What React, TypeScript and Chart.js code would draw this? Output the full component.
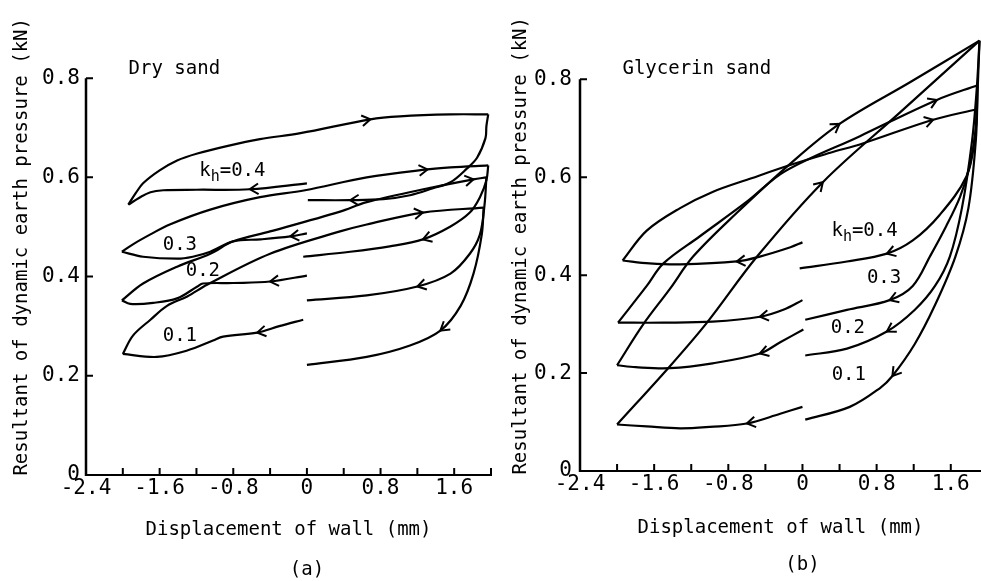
import React, { useEffect, useRef } from "react";
import { Chart, registerables } from "chart.js";
Chart.register(...registerables);

const FONT = '"DejaVu Sans Mono", "Liberation Mono", monospace';

// ---------- axis ticks ----------
const xLabelTicks = [-2.4, -1.6, -0.8, 0, 0.8, 1.6];
const xTickMarks = [-2.0, -1.6, -1.2, -0.8, -0.4, 0, 0.4, 0.8, 1.2, 1.6, 2.0];
const yLabelTicks = [0, 0.2, 0.4, 0.6, 0.8];
const yTickMarks = [0.2, 0.4, 0.6, 0.8];

// ---------- (a) Dry sand ----------
const dryK04Left = [[0.0, 0.588], [-0.62, 0.576], [-1.2, 0.575], [-1.56, 0.574], [-1.7, 0.57], [-1.82, 0.559], [-1.94, 0.545]];
const dryK04Up = [[-1.94, 0.545], [-1.86, 0.568], [-1.78, 0.588], [-1.6, 0.614], [-1.41, 0.634], [-1.19, 0.648], [-0.87, 0.663], [-0.51, 0.677], [-0.07, 0.689], [0.69, 0.717], [1.01, 0.723], [1.56, 0.727], [1.97, 0.727]];
const dryK04Down = [[1.97, 0.727], [1.95, 0.703], [1.94, 0.679], [1.85, 0.64], [1.74, 0.618], [1.56, 0.59], [1.37, 0.578], [1.12, 0.564], [0.83, 0.556], [0.47, 0.554], [0.01, 0.554]];

const dryK03Left = [[0.0, 0.487], [-0.18, 0.481], [-0.5, 0.475], [-0.8, 0.471], [-1.05, 0.45], [-1.24, 0.44], [-1.41, 0.436], [-1.78, 0.44], [-2.01, 0.45]];
const dryK03Up = [[-2.01, 0.45], [-1.89, 0.465], [-1.7, 0.485], [-1.49, 0.505], [-1.05, 0.535], [-0.51, 0.56], [-0.02, 0.574], [0.65, 0.6], [1.31, 0.616], [1.56, 0.62], [1.97, 0.624]];
const dryK03Down = [[1.97, 0.624], [1.95, 0.594], [1.88, 0.56], [1.77, 0.529], [1.56, 0.501], [1.26, 0.475], [0.9, 0.461], [0.47, 0.45], [-0.04, 0.44]];

const dryK02Left = [[0.0, 0.402], [-0.4, 0.39], [-0.8, 0.387], [-1.13, 0.386], [-1.19, 0.38], [-1.41, 0.356], [-1.67, 0.347], [-1.92, 0.345], [-2.01, 0.352]];
const dryK02Up = [[-2.01, 0.352], [-1.78, 0.386], [-1.41, 0.42], [-1.05, 0.446], [-0.8, 0.471], [-0.4, 0.491], [0.36, 0.531], [0.65, 0.55], [1.37, 0.58], [1.81, 0.596], [1.95, 0.6]];
const dryK02Down = [[1.95, 0.6], [1.93, 0.545], [1.88, 0.485], [1.77, 0.446], [1.56, 0.406], [1.2, 0.38], [0.65, 0.362], [0.0, 0.352]];

const dryK01Left = [[-0.04, 0.313], [-0.3, 0.3], [-0.54, 0.287], [-0.91, 0.279], [-1.02, 0.271], [-1.3, 0.251], [-1.63, 0.238], [-2.0, 0.244]];
const dryK01Up = [[-2.0, 0.244], [-1.89, 0.281], [-1.7, 0.313], [-1.52, 0.341], [-1.3, 0.36], [-1.08, 0.384], [-0.4, 0.446], [0.36, 0.491], [0.65, 0.505], [1.26, 0.529], [1.92, 0.539]];
const dryK01Down = [[1.92, 0.539], [1.9, 0.485], [1.81, 0.406], [1.67, 0.341], [1.45, 0.291], [1.12, 0.261], [0.65, 0.238], [0.0, 0.222]];

const drySegments = [dryK04Left, dryK04Up, dryK04Down, dryK03Left, dryK03Up, dryK03Down, dryK02Left, dryK02Up, dryK02Down, dryK01Left, dryK01Up, dryK01Down];
const dryArrows: [number[][], number][] = [
  [dryK04Left, -0.62], [dryK04Up, 0.69], [dryK04Down, 0.47],
  [dryK03Left, -0.18], [dryK03Up, 1.31], [dryK03Down, 1.26],
  [dryK02Left, -0.4], [dryK02Up, 1.81], [dryK02Down, 1.2],
  [dryK01Left, -0.54], [dryK01Up, 1.26], [dryK01Down, 1.45],
];
const dryLabels: [number, number, string][] = [
  [-1.44, 0.818, "Dry sand"],
  [-0.81, 0.612, "k_h=0.4"],
  [-1.38, 0.463, "0.3"],
  [-1.13, 0.412, "0.2"],
  [-1.38, 0.281, "0.1"],
];

// ---------- (b) Glycerin sand ----------
const glyK04Left = [[0.0, 0.467], [-0.13, 0.457], [-0.46, 0.438], [-0.71, 0.428], [-1.32, 0.422], [-1.65, 0.424], [-1.94, 0.43]];
const glyK04Up = [[-1.94, 0.43], [-1.68, 0.491], [-1.32, 0.537], [-0.97, 0.57], [-0.55, 0.598], [-0.1, 0.627], [0.3, 0.65], [0.65, 0.669], [1.4, 0.717], [1.88, 0.739]];
const glyK04Down = [[1.88, 0.739], [1.86, 0.68], [1.77, 0.602], [1.48, 0.523], [1.19, 0.471], [0.91, 0.444], [0.48, 0.428], [-0.03, 0.414]];

const glyK03Left = [[0.0, 0.349], [-0.2, 0.33], [-0.46, 0.315], [-0.97, 0.305], [-1.5, 0.303], [-1.99, 0.303]];
const glyK03Up = [[-1.99, 0.303], [-1.68, 0.378], [-1.5, 0.424], [-1.11, 0.479], [-0.6, 0.55], [-0.19, 0.612], [0.62, 0.684], [1.45, 0.758], [1.89, 0.788]];
const glyK03Down = [[1.89, 0.788], [1.87, 0.7], [1.8, 0.62], [1.7, 0.56], [1.55, 0.5], [1.38, 0.44], [1.19, 0.378], [0.94, 0.349], [0.48, 0.329], [0.03, 0.309]];

const glyK02Left = [[0.01, 0.289], [-0.24, 0.263], [-0.46, 0.24], [-0.97, 0.22], [-1.43, 0.21], [-1.8, 0.212], [-2.0, 0.216]];
const glyK02Up = [[-2.0, 0.216], [-1.72, 0.299], [-1.43, 0.372], [-1.18, 0.438], [-0.71, 0.527], [-0.13, 0.628], [0.4, 0.709], [1.16, 0.794], [1.91, 0.879]];
const glyK02Down = [[1.91, 0.879], [1.88, 0.78], [1.83, 0.675], [1.72, 0.537], [1.59, 0.438], [1.43, 0.378], [1.21, 0.329], [0.91, 0.285], [0.48, 0.25], [0.03, 0.236]];

const glyK01Left = [[0.0, 0.131], [-0.24, 0.117], [-0.6, 0.097], [-1.0, 0.09], [-1.32, 0.087], [-1.68, 0.091], [-2.0, 0.095]];
const glyK01Up = [[-2.0, 0.095], [-1.43, 0.214], [-1.03, 0.303], [-0.49, 0.438], [0.22, 0.59], [1.05, 0.732], [1.91, 0.879]];
const glyK01Down = [[1.91, 0.879], [1.89, 0.78], [1.87, 0.675], [1.79, 0.537], [1.65, 0.438], [1.43, 0.339], [1.21, 0.259], [0.97, 0.194], [0.84, 0.17], [0.51, 0.131], [0.03, 0.105]];

const glySegments = [glyK04Left, glyK04Up, glyK04Down, glyK03Left, glyK03Up, glyK03Down, glyK02Left, glyK02Up, glyK02Down, glyK01Left, glyK01Up, glyK01Down];
const glyArrows: [number[][], number][] = [
  [glyK04Left, -0.71], [glyK04Up, 1.41], [glyK04Down, 0.91],
  [glyK03Left, -0.46], [glyK03Up, 1.45], [glyK03Down, 0.94],
  [glyK02Left, -0.46], [glyK02Up, 0.4], [glyK02Down, 0.91],
  [glyK01Left, -0.6], [glyK01Up, 0.22], [glyK01Down, 0.97],
];
const glyLabels: [number, number, string][] = [
  [-1.14, 0.822, "Glycerin sand"],
  [0.67, 0.49, "k_h=0.4"],
  [0.88, 0.394, "0.3"],
  [0.49, 0.291, "0.2"],
  [0.5, 0.195, "0.1"],
];

const panelA = {
  segments: drySegments, arrows: dryArrows, labels: dryLabels, caption: "(a)",
  xMax: 2.0, yAxisWidth: 86, xAxisHeight: 106, padTop: 10.4, padRight: 9,
  yTickPad: 6, yTitlePad: 10.6, xTitlePad: 39.6, captionOffset: 95,
};
const panelB = {
  segments: glySegments, arrows: glyArrows, labels: glyLabels, caption: "(b)",
  xMax: 1.926, yAxisWidth: 80, xAxisHeight: 110, padTop: 8.7, padRight: 0,
  yTickPad: 8, yTitlePad: 9.6, xTitlePad: 41.6, captionOffset: 94,
};

const fmt = (v: any) => (Number(v) === 0 ? "0" : Number(v).toFixed(1));

function bez(p0: number, c1: number, c2: number, p1: number, t: number) {
  const u = 1 - t;
  return u * u * u * p0 + 3 * u * u * t * c1 + 3 * u * t * t * c2 + t * t * t * p1;
}
function bezD(p0: number, c1: number, c2: number, p1: number, t: number) {
  const u = 1 - t;
  return 3 * u * u * (c1 - p0) + 6 * u * t * (c2 - c1) + 3 * t * t * (p1 - c2);
}

function locateArrow(chart: any, di: number, xv: number) {
  const meta = chart.getDatasetMeta(di);
  const pts = meta.data;
  const px = chart.scales.x.getPixelForValue(xv);
  for (let i = 0; i < pts.length - 1; i++) {
    const a = pts[i], b = pts[i + 1];
    if ((a.x - px) * (b.x - px) <= 0 && a.x !== b.x) {
      const c1x = a.cp2x ?? a.x, c1y = a.cp2y ?? a.y;
      const c2x = b.cp1x ?? b.x, c2y = b.cp1y ?? b.y;
      let lo = 0, hi = 1;
      const inc = b.x > a.x;
      for (let k = 0; k < 40; k++) {
        const m = (lo + hi) / 2;
        const xm = bez(a.x, c1x, c2x, b.x, m);
        if ((xm < px) === inc) lo = m; else hi = m;
      }
      const t = (lo + hi) / 2;
      return {
        x: bez(a.x, c1x, c2x, b.x, t), y: bez(a.y, c1y, c2y, b.y, t),
        dx: bezD(a.x, c1x, c2x, b.x, t), dy: bezD(a.y, c1y, c2y, b.y, t),
      };
    }
  }
  return null;
}

function drawLabel(ctx: CanvasRenderingContext2D, cx: number, cy: number, text: string) {
  const m = text.match(/^(.*)_(\w)(.*)$/);
  const big = `19px ${FONT}`, small = `15px ${FONT}`;
  ctx.textBaseline = "middle";
  ctx.textAlign = "left";
  if (!m) {
    ctx.font = big;
    const w = ctx.measureText(text).width;
    ctx.fillText(text, cx - w / 2, cy);
    return;
  }
  ctx.font = big;
  const w1 = ctx.measureText(m[1]).width;
  const w3 = ctx.measureText(m[3]).width;
  ctx.font = small;
  const w2 = ctx.measureText(m[2]).width;
  let x = cx - (w1 + w2 + w3) / 2;
  ctx.font = big;
  ctx.fillText(m[1], x, cy);
  x += w1;
  ctx.font = small;
  ctx.fillText(m[2], x, cy + 6);
  x += w2;
  ctx.font = big;
  ctx.fillText(m[3], x, cy);
}

function makeOverlay(cfg: any) {
  return {
    id: "overlay",
    afterDraw(chart: any) {
      const ctx: CanvasRenderingContext2D = chart.ctx;
      const xs = chart.scales.x, ys = chart.scales.y;
      const left = chart.chartArea.left, bottom = chart.chartArea.bottom;
      ctx.save();
      ctx.strokeStyle = "#000";
      ctx.fillStyle = "#000";
      ctx.lineCap = "butt";
      // y axis line 0 .. 0.8
      ctx.lineWidth = 2.5;
      ctx.beginPath();
      ctx.moveTo(left, bottom + 1);
      ctx.lineTo(left, ys.getPixelForValue(yLabelTicks[yLabelTicks.length - 1]));
      ctx.stroke();
      // inward tick marks
      ctx.lineWidth = 2;
      ctx.beginPath();
      yTickMarks.forEach((v) => {
        const py = ys.getPixelForValue(v);
        ctx.moveTo(left, py);
        ctx.lineTo(left + 7, py);
      });
      xTickMarks.filter((v) => v <= cfg.xMax).forEach((v) => {
        const px = xs.getPixelForValue(v);
        ctx.moveTo(px, bottom);
        ctx.lineTo(px, bottom - 7);
      });
      ctx.stroke();
      // arrows
      ctx.lineWidth = 2;
      cfg.arrows.forEach(([seg, xv]: [number[][], number]) => {
        const di = cfg.segments.indexOf(seg);
        const p = locateArrow(chart, di, xv);
        if (!p) return;
        const len = Math.hypot(p.dx, p.dy) || 1;
        const ux = p.dx / len, uy = p.dy / len;
        const L = 10, ang = (32 * Math.PI) / 180;
        const ca = Math.cos(ang), sa = Math.sin(ang);
        ctx.beginPath();
        ctx.moveTo(p.x - L * (ux * ca - uy * sa), p.y - L * (uy * ca + ux * sa));
        ctx.lineTo(p.x, p.y);
        ctx.lineTo(p.x - L * (ux * ca + uy * sa), p.y - L * (uy * ca - ux * sa));
        ctx.stroke();
      });
      // annotations
      cfg.labels.forEach(([x, y, t]: [number, number, string]) => {
        drawLabel(ctx, xs.getPixelForValue(x), ys.getPixelForValue(y), t);
      });
      // caption
      ctx.font = `19px ${FONT}`;
      ctx.textAlign = "center";
      ctx.textBaseline = "middle";
      ctx.fillText(cfg.caption, xs.getPixelForValue(0), bottom + cfg.captionOffset);
      ctx.restore();
    },
  };
}

function makeChart(canvas: HTMLCanvasElement, cfg: any) {
  return new Chart(canvas, {
    type: "scatter",
    data: {
      datasets: cfg.segments.map((seg: number[][]) => ({
        data: seg.map(([x, y]) => ({ x, y })),
        showLine: true,
        borderColor: "#000",
        borderWidth: 2.2,
        pointRadius: 0,
        tension: 0.35,
        clip: false,
        fill: false,
      })),
    },
    options: {
      responsive: false,
      animation: false,
      devicePixelRatio: 1,
      events: [],
      layout: { padding: { top: cfg.padTop, right: cfg.padRight, left: 0, bottom: 0 } },
      elements: { line: { capBezierPoints: false } },
      plugins: { legend: { display: false }, tooltip: { enabled: false } },
      scales: {
        x: {
          type: "linear",
          min: -2.4,
          max: cfg.xMax,
          afterFit: (s: any) => { s.height = cfg.xAxisHeight; },
          afterBuildTicks: (s: any) => { s.ticks = xLabelTicks.map((v) => ({ value: v })); },
          grid: { display: false, drawTicks: false },
          border: { display: true, color: "#000", width: 2 },
          ticks: { color: "#000", font: { family: FONT, size: 21 }, padding: 1, maxRotation: 0, autoSkip: false, callback: fmt },
          title: { display: true, text: "Displacement of wall (mm)", color: "#000", font: { family: FONT, size: 19 }, padding: { top: 0, bottom: cfg.xTitlePad } },
        },
        y: {
          type: "linear",
          min: 0,
          max: 0.92,
          afterFit: (s: any) => { s.width = cfg.yAxisWidth; },
          afterBuildTicks: (s: any) => { s.ticks = yLabelTicks.map((v) => ({ value: v })); },
          grid: { display: false, drawTicks: false },
          border: { display: false },
          ticks: { color: "#000", font: { family: FONT, size: 21 }, padding: cfg.yTickPad, autoSkip: false, callback: fmt },
          title: { display: true, text: "Resultant of dynamic earth pressure (kN)", color: "#000", font: { family: FONT, size: 19 }, padding: { top: cfg.yTitlePad, bottom: 0 } },
        },
      },
    } as any,
    plugins: [makeOverlay(cfg)],
  });
}

export default function App() {
  const refA = useRef<HTMLCanvasElement>(null);
  const refB = useRef<HTMLCanvasElement>(null);
  useEffect(() => {
    const a = makeChart(refA.current!, panelA);
    const b = makeChart(refB.current!, panelB);
    return () => {
      a.destroy();
      b.destroy();
    };
  }, []);
  return (
    <div style={{ position: "fixed", left: 0, top: 0, width: 981, height: 581, background: "#fff", overflow: "hidden" }}>
      <canvas ref={refA} width={500} height={581} style={{ position: "absolute", left: 0, top: 0 }} />
      <canvas ref={refB} width={481} height={581} style={{ position: "absolute", left: 500, top: 0 }} />
    </div>
  );
}
